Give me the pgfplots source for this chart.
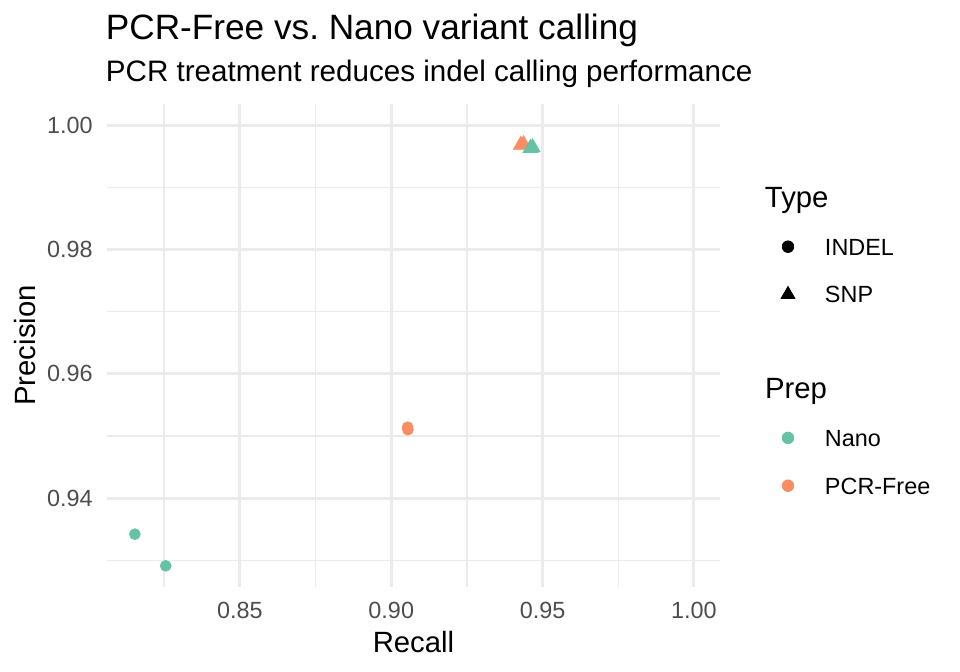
\documentclass[border=0pt]{standalone}
\usepackage{fontspec}
\setmainfont{Liberation Sans}
\usepackage{pgfplots}
\pgfplotsset{compat=1.18}
\definecolor{nano}{HTML}{66C2A5}
\definecolor{pcrfree}{HTML}{FC8D62}
\definecolor{gridc}{HTML}{EBEBEB}
\definecolor{tickc}{HTML}{4D4D4D}

\begin{document}
\begin{tikzpicture}
% page = 960x672 px at 0.5pt per px
\useasboundingbox (0,0) rectangle (480pt,336pt);

\node[anchor=base west, inner sep=0pt, font=\fontsize{17.6}{21}\selectfont]
  at (52.75pt,316pt) {PCR-Free vs.\ Nano variant calling};
\node[anchor=base west, inner sep=0pt, font=\fontsize{14.8}{17}\selectfont]
  at (52.75pt,295pt) {PCR treatment reduces indel calling performance};

\begin{axis}[
    at={(53.5pt,42.5pt)}, anchor=south west,
    scale only axis,
    width=306.5pt, height=241.5pt,
    xmin=0.8061, xmax=1.0086,
    ymin=0.9257, ymax=1.0034,
    axis line style={draw=none},
    tick style={draw=none},
    xtick={0.85,0.90,0.95,1.00},
    minor xtick={0.825,0.875,0.925,0.975},
    ytick={0.94,0.96,0.98,1.00},
    minor ytick={0.93,0.95,0.97,0.99},
    grid=both,
    major grid style={gridc, line width=1.5pt},
    minor grid style={gridc, line width=0.75pt},
    /pgf/number format/.cd, fixed, fixed zerofill, precision=2, assume math mode=true,
    /pgfplots/.cd,
    tick label style={font=\fontsize{11.7}{13}\selectfont, color=tickc, inner sep=0pt},
    xticklabel style={anchor=north, yshift=-7.5pt},
    yticklabel style={anchor=east, xshift=-7pt},
    xlabel={Recall},
    ylabel={Precision},
    xlabel style={at={(axis description cs:0.5,-0.1149)}, anchor=center,
      inner sep=0pt, font=\fontsize{14.65}{17}\selectfont},
    ylabel style={at={(axis description cs:-0.1330,0.5)}, anchor=center,
      inner sep=0pt, font=\fontsize{14.65}{17}\selectfont},
    legend image code/.code={
      \path[draw=none, fill=none] (0pt,0pt) -- (16pt,0pt);
      \draw[#1] plot coordinates {(8pt,0pt)};
    },
    legend cell align=left,
    legend style={
      at={(1.08483,0.85300)}, anchor=north west,
      draw=none, fill=none, inner sep=0pt, outer sep=0pt,
      row sep=0pt, column sep=10.5pt,
      nodes={inner sep=0pt, outer sep=0pt, text height=16.15pt, text depth=7.75pt},
      font=\fontsize{11.7}{13}\selectfont
    },
]

% INDEL
\addplot[only marks, mark=*, mark size=2.7pt, color=nano, forget plot]
  coordinates {(0.8153,0.9342) (0.8255,0.9291)};
\addplot[only marks, mark=*, mark size=2.7pt, color=pcrfree, forget plot]
  coordinates {(0.9054,0.9514) (0.9055,0.9510)};
% SNP
\addplot[only marks, mark=triangle*, mark size=4.3pt, color=pcrfree, forget plot]
  coordinates {(0.9428,0.9968) (0.9437,0.9969)};
\addplot[only marks, mark=triangle*, mark size=4.3pt, color=nano, forget plot]
  coordinates {(0.9460,0.9963) (0.9467,0.9964)};

% legend: Type block, gap, Prep block
\addlegendimage{empty legend}
\addlegendentry{\hspace*{-30pt}\fontsize{14.65}{17}\selectfont Type}
\addlegendimage{mark=*, mark size=2.9pt, black}
\addlegendentry{INDEL}
\addlegendimage{mark=triangle*, mark size=4pt, black}
\addlegendentry{SNP}
\addlegendimage{empty legend}
\addlegendentry{}
\addlegendimage{empty legend}
\addlegendentry{\hspace*{-30pt}\fontsize{14.65}{17}\selectfont Prep}
\addlegendimage{mark=*, mark size=2.9pt, nano}
\addlegendentry{Nano}
\addlegendimage{mark=*, mark size=2.9pt, pcrfree}
\addlegendentry{PCR-Free}

\end{axis}
\end{tikzpicture}
\end{document}
